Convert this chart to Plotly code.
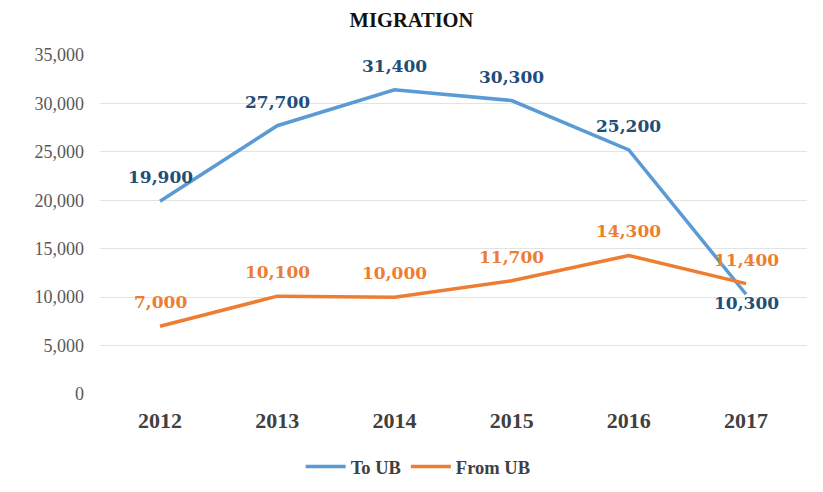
import plotly.graph_objects as go

years = ["2012", "2013", "2014", "2015", "2016", "2017"]
to_ub = [19900, 27700, 31400, 30300, 25200, 10300]
from_ub = [7000, 10100, 10000, 11700, 14300, 11400]
# label placement: +1 above the point, -1 below
to_ub_side = [1, 1, 1, 1, 1, -1]
from_ub_side = [1, 1, 1, 1, 1, 1]

label_font = "DejaVu Serif, serif"
tick_font = "Liberation Serif, serif"
BLUE, ORANGE, NAVY = "#5b9bd5", "#ed7d31", "#1f4e79"

fig = go.Figure()
fig.add_trace(go.Scatter(x=years, y=to_ub, name="<b>To UB</b>", mode="lines",
                         line=dict(color=BLUE, width=3.5)))
fig.add_trace(go.Scatter(x=years, y=from_ub, name="<b>From UB</b>", mode="lines",
                         line=dict(color=ORANGE, width=3.5)))

annotations = []
for vals, sides, col in [(to_ub, to_ub_side, NAVY), (from_ub, from_ub_side, ORANGE)]:
    for i, (v, s) in enumerate(zip(vals, sides)):
        annotations.append(dict(
            x=i, y=v, xref="x", yref="y", text=f"<b>{v:,}</b>", showarrow=False,
            yanchor="middle", xanchor="center", yshift=24 if s > 0 else -9,
            font=dict(family=label_font, size=17, color=col)))

W, H = 815, 476  # page has an 8px body margin
fig.update_layout(
    width=W, height=H,
    paper_bgcolor="white", plot_bgcolor="white",
    margin=dict(l=92, r=16, t=47, b=90, autoexpand=False),
    title=dict(text="<b>MIGRATION</b>", x=(411.5 - 8) / W, xref="container", xanchor="center",
               y=1 - 5 / H, yref="container", yanchor="top",
               font=dict(family=tick_font, size=20.5, color="#111111")),
    xaxis=dict(type="category", range=[-0.512, 5.52], showgrid=False, zeroline=False,
               showline=False, ticks="outside", ticklen=7, tickcolor="rgba(0,0,0,0)",
               tickfont=dict(family=tick_font, size=22, color="#404040"),
               tickprefix="<b>", ticksuffix="</b>"),
    yaxis=dict(range=[0, 35000], dtick=5000, tickformat=",", showgrid=True,
               gridcolor="#e3e3e3", gridwidth=1, zeroline=False, showline=False,
               tickfont=dict(family=tick_font, size=18, color="#595959"), ticks="",
               ticklabelstandoff=15),
    legend=dict(orientation="h", x=0.45, xanchor="center", y=-0.215, yanchor="middle",
                font=dict(family=tick_font, size=18.5, color="#404040"),
                itemwidth=40, tracegroupgap=0),
    annotations=annotations,
    showlegend=True,
)

fig.write_html("out.html")
